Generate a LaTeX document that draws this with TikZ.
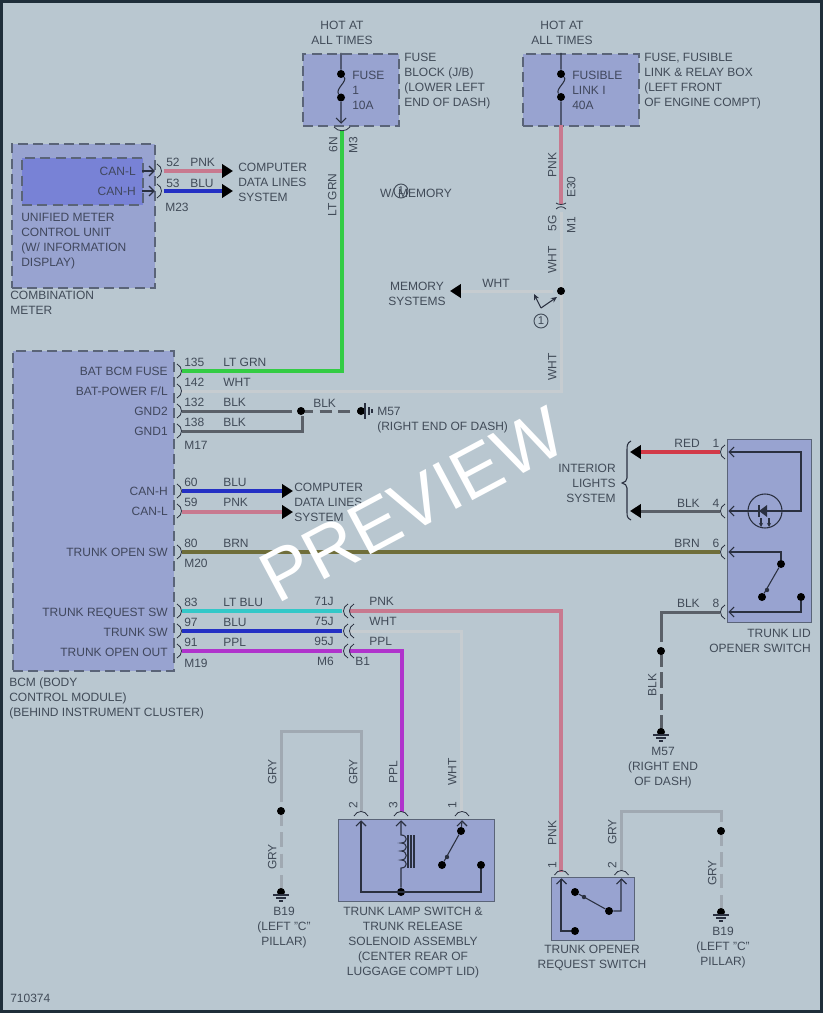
\documentclass[tikz,border=0pt]{standalone}
\usepackage{fontspec}
\setmainfont{Liberation Sans}
\usetikzlibrary{arrows.meta}
\definecolor{bgc}{HTML}{B9C7D0}
\definecolor{boxc}{HTML}{98A3D0}
\definecolor{innerc}{HTML}{7882D6}
\definecolor{edgec}{HTML}{5A6478}
\definecolor{txtc}{HTML}{414B58}
\definecolor{pnkw}{HTML}{C8798F}
\definecolor{grnw}{HTML}{33CC44}
\definecolor{bluw}{HTML}{2430C4}
\definecolor{ppw}{HTML}{B033CC}
\definecolor{cyw}{HTML}{33C8C8}
\definecolor{brw}{HTML}{6F6E3A}
\definecolor{redw}{HTML}{D23A48}
\definecolor{blkw}{HTML}{5A6068}
\definecolor{whtw}{HTML}{C6CCD0}
\definecolor{gryw}{HTML}{A0A9B2}
\definecolor{linec}{HTML}{2A3040}
\definecolor{framec}{HTML}{1F2E3A}
\newcounter{lb}
\newcommand\lab[4][]{\stepcounter{lb}\node[lab,#1] (t\arabic{lb}) at (#2,#3) {#4};}
\newcommand\mlab[4][]{\stepcounter{lb}\node[mlabs,#1] (t\arabic{lb}) at (#2,#3-4.8) {\rule{0pt}{7pt}#4};}
\newcommand\rp[2]{\draw[cn] (#1-3,#2-7) .. controls (#1+3,#2-4) and (#1+3,#2+4) .. (#1-3,#2+7);}
\newcommand\lp[2]{\draw[cn] (#1+3,#2-7) .. controls (#1-3,#2-4) and (#1-3,#2+4) .. (#1+3,#2+7);}
\newcommand\ap[2]{\draw[cn] (#1-7,#2+3) .. controls (#1-4,#2-3) and (#1+4,#2-3) .. (#1+7,#2+3);}
\newcommand\chl[2]{\draw[ln] (#1+5,#2-5) -- (#1,#2) -- (#1+5,#2+5);}
\newcommand\chu[2]{\draw[ln] (#1-5,#2+5) -- (#1,#2) -- (#1+5,#2+5);}
\newcommand\chr[2]{\draw[ln] (#1-5,#2-5) -- (#1,#2) -- (#1-5,#2+5);}
\newcommand\chd[2]{\draw[ln] (#1-5,#2-5) -- (#1,#2) -- (#1+5,#2-5);}
\newcommand\gnd[2]{\draw[ln] (#1-8,#2+3) -- (#1+8,#2+3) (#1-5,#2+6) -- (#1+5,#2+6) (#1-2,#2+9) -- (#1+2,#2+9);}
\tikzset{
  lab/.style={inner sep=0pt,text height=6.5pt,text depth=0pt,text=txtc,anchor=west,font=\fontsize{9}{11.25}\selectfont},
  mlabs/.style={inner sep=0pt,text=txtc,anchor=north west,align=left,font=\fontsize{9}{11.25}\selectfont},
  blab/.style={text=linec!80!boxc},
  dashbox/.style={draw=edgec,fill=boxc,line width=1.3pt,dash pattern=on 7.5pt off 4pt},
  solidbox/.style={draw=edgec,fill=boxc,line width=1.1pt},
  wire/.style={line width=2.5pt,line join=miter},
  thinwire/.style={line width=2.25pt,line join=miter},
  cn/.style={draw=linec,line width=.6pt},
  ln/.style={draw=linec,line width=.8pt},
  dotn/.style={circle,fill=black,inner sep=0pt,minimum size=6pt},
  tipb/.style={-{Triangle[length=8.2pt,width=10pt,black]}},
  numc/.style={circle,draw=txtc,line width=.7pt,inner sep=0pt,minimum size=10.5pt,text=txtc,font=\fontsize{8.5}{9}\selectfont}
}
\begin{document}
\begin{tikzpicture}[x=0.75pt,y=-0.75pt]
\useasboundingbox (0,0) rectangle (823,1013);
\fill[bgc] (0,0) rectangle (823,1013);
\draw[color=framec,line width=4.2pt] (0,0) rectangle (823,1013);
\draw[color=framec,line width=2.4pt] (0,1012) -- (823,1012) -- (823,0);

% boxes
\node[dashbox,minimum width=72pt,minimum height=54pt,inner sep=0pt,anchor=north west] (fuseblock) at (302,53) {};
\node[dashbox,minimum width=87pt,minimum height=54pt,inner sep=0pt,anchor=north west] (fusiblebox) at (522,53) {};
\node[dashbox,minimum width=107.25pt,minimum height=108pt,inner sep=0pt,anchor=north west] (combmeter) at (11,143) {};
\node[dashbox,fill=innerc,minimum width=90.75pt,minimum height=35.25pt,inner sep=0pt,anchor=north west] (unified) at (21,157) {};
\node[dashbox,minimum width=120.75pt,minimum height=240pt,inner sep=0pt,anchor=north west] (bcm) at (12,350) {};
\node[solidbox,minimum width=63pt,minimum height=137.25pt,inner sep=0pt,anchor=north west] (lidsw) at (727,439) {};
\node[solidbox,minimum width=117pt,minimum height=61.5pt,inner sep=0pt,anchor=north west] (lampsw) at (338,819) {};
\node[solidbox,minimum width=62.25pt,minimum height=47.25pt,inner sep=0pt,anchor=north west] (reqsw) at (551,877) {};

% named points
\foreach \n/\x/\y in {
 f1top/342/131,f1end/342/371,p135/182/371,
 f2a/561/125,f2b/561/204,f2c/561/212,f2end/561/391,p142/182/391,
 wh1/553/291,wh2/450/291,
 p52/164/171,a52/233/171,p53/164/191,a53/233/191,
 p132/182/411,k132/292/411,p138/182/431,k138/302/431,t138/302/416,
 p60/182/491,a60/293/491,p59/182/512,a59/293/512,
 p80/182/552,q80/720/552,
 p83/182/611,q83/342/611,r83/349/611,k83/561/611,e83/561/872,
 p97/182/631,q97/342/631,r97/349/631,k97/461/631,e97/461/812,
 p91/182/651,q91/342/651,r91/349/651,k91/402/651,e91/402/812,
 r1/720/452,a1/630/452,r4/720/511,a4/630/511,
 r8/720/612,k8/661/612,e8/661/642,
 g2s/361/812,g2a/361/731,g2b/281/731,g2c/281/802,
 o2s/621/871,o2a/621/811,o2b/721/811,o2c/721/822,
 dm1c/301/411,dm2c/361/411,d8ac/661/651,d8bc/661/732,dg3c/281/811,dg4c/281/892,dqc/721/831,dq2c/721/912}
 {\coordinate (\n) at (\x,\y);}

% wires
\draw[wire,color=grnw] (f1top) -- (f1end) -- (p135);
\draw[wire,color=pnkw] (f2a) -- (f2b);
\draw[thinwire,color=whtw] (f2c) -- (f2end) -- (p142);
\draw[thinwire,color=whtw,tipb] (wh1) -- (wh2);
\draw[wire,color=pnkw,tipb] (p52) -- (a52);
\draw[wire,color=bluw,tipb] (p53) -- (a53);
\draw[thinwire,color=blkw] (p132) -- (k132);
\draw[thinwire,color=blkw,dash pattern=on 9pt off 5pt] (dm1c) -- (dm2c);
\draw[thinwire,color=blkw] (p138) -- (k138) -- (t138);
\draw[wire,color=bluw,tipb] (p60) -- (a60);
\draw[wire,color=pnkw,tipb] (p59) -- (a59);
\draw[wire,color=brw] (p80) -- (q80);
\draw[wire,color=cyw] (p83) -- (q83);
\draw[wire,color=pnkw] (r83) -- (k83) -- (e83);
\draw[wire,color=bluw] (p97) -- (q97);
\draw[thinwire,color=whtw] (r97) -- (k97) -- (e97);
\draw[wire,color=ppw] (p91) -- (q91);
\draw[wire,color=ppw] (r91) -- (k91) -- (e91);
\draw[wire,color=redw,tipb] (r1) -- (a1);
\draw[thinwire,color=blkw,tipb] (r4) -- (a4);
\draw[thinwire,color=blkw] (r8) -- (k8) -- (e8);
\draw[thinwire,color=blkw,dash pattern=on 12pt off 4pt] (d8ac) -- (d8bc);
\draw[thinwire,color=gryw] (g2s) -- (g2a) -- (g2b) -- (g2c);
\draw[thinwire,color=gryw,dash pattern=on 11pt off 5pt] (dg3c) -- (dg4c);
\draw[thinwire,color=gryw] (o2s) -- (o2a) -- (o2b) -- (o2c);
\draw[thinwire,color=gryw,dash pattern=on 11pt off 5pt] (dqc) -- (dq2c);

% dots
\foreach \n/\x/\y in {df1/341/74,df2/341/97.5,dg1/561/74,dg2/561/97,dwh/561/291,
 dm1/301/411,dm2/361/411,d8a/661/651,d8b/661/732,
 dg3/281/811,dg4/281/892,dq/721/831,dq2/721/912,
 l1/781/564,l2/762/597,l3/801/597,
 s1/461/831,s2/442/865,s3/481/865,s4/401/892,
 r1d/575/892,r2d/609/911,r3d/575/931}
 {\node[dotn] (\n) at (\x,\y) {};}

% fuses
\draw[ln] (fuseblock.north -| df1) -- (df1) .. controls (348,81) and (335,89) .. (df2) -- (341,122);
\chd{341}{123}
\draw[cn] (334,127) .. controls (338,132) and (346,132) .. (350,127);
\draw[ln] (fusiblebox.north -| dg1) -- (dg1) .. controls (568,81) and (555,89) .. (dg2) -- (561,125);
\draw[cn] (556,203) .. controls (559,205) and (563,205) .. (566,203);
\draw[cn] (556,209) .. controls (559,206) and (563,206) .. (566,209);

% combination meter pins
\draw[ln] (142,171) -- (154,171); \chr{154}{171} \rp{160}{171}
\draw[ln] (142,191) -- (154,191); \chr{154}{191} \rp{160}{191}

% memory branch
\node[numc] (circ2) at (541,321) {1};
\coordinate (br) at (541,308);
\draw[ln,-{Stealth[length=4.5pt,width=4pt]}] (br) -- (534,294);
\draw[ln,-{Stealth[length=4.5pt,width=4pt]}] (br) -- (557,297);

% BCM pins
\foreach \y in {371,391,411,431,491,511,552,611,631,651} {\rp{180}{\y}}
\foreach \y in {611,631,651} {\lp{345}{\y} \lp{351}{\y}}

% M57 side ground
\draw[ln] (365,403) -- (365,419) (369,407) -- (369,415) (372,409) -- (372,413);

% trunk lid pins
\foreach \y in {452,511,552,612} {\lp{722}{\y} \chl{729}{\y}}
\draw[ln] (729,452) -- (801,452) -- (801,511) -- (729,511);
\node[circle,draw=linec,line width=.8pt,inner sep=0pt,minimum size=25.5pt] (ledc) at (765,511) {};
\fill[linec] (759,511) -- (767,505) -- (767,517) -- cycle;
\draw[linec,line width=.9pt] (759,505) -- (759,517);
\draw[ln,-{Stealth[length=3pt,width=3pt]}] (761,518) -- (761,527);
\draw[ln,-{Stealth[length=3pt,width=3pt]}] (769,518) -- (769,527);
\draw[ln] (729,552) -- (781,552) -- (l1);
\draw[ln] (l1) -- (l2);
\fill[linec] (767,590) circle (2.2);
\draw[ln] (729,612) -- (801,612) -- (l3);

% brace
\draw[ln] (631,441) .. controls (627,443) and (627,446) .. (627,450) -- (627,478) .. controls (627,481) and (625,482) .. (622,483) .. controls (625,484) and (627,485) .. (627,488) -- (627,512) .. controls (627,516) and (627,518) .. (631,520);

% trunk lamp switch
\foreach \x in {361,401,462} {\ap{\x}{813} \chu{\x}{821}}
\draw[ln] (361,821) -- (361,892) -- (481,892) -- (s3);
\draw[ln] (401,821) -- (401,835)
  .. controls (408,835) and (408,843) .. (401,843)
  .. controls (408,843) and (408,851) .. (401,851)
  .. controls (408,851) and (408,860) .. (401,860)
  .. controls (408,860) and (408,868) .. (401,868) -- (s4);
\draw[ln] (408,835) -- (408,868) (411,835) -- (411,868) (414,835) -- (414,868);
\draw[ln] (462,821) -- (s1) -- (s2);
\fill[linec] (447,857) circle (2.2);

% request switch
\foreach \x in {561.5,621.5} {\ap{\x}{872} \chu{\x}{879}}
\draw[ln] (561,879) -- (561,931) -- (r3d);
\draw[ln] (r1d) -- (r2d) -- (621,911) -- (621,879);
\fill[linec] (584,897) circle (2.2);

% grounds
\gnd{281}{892} \gnd{661}{732} \gnd{721}{912}

% labels: top
\mlab[anchor=north,align=center]{342}{25}{HOT AT\\ALL TIMES}
\mlab[anchor=north,align=center]{562}{25}{HOT AT\\ALL TIMES}
\mlab[blab]{352}{75}{FUSE\\1\\10A}
\mlab{404}{57}{FUSE\\BLOCK (J/B)\\(LOWER LEFT\\END OF DASH)}
\mlab[blab]{572}{75}{FUSIBLE\\LINK I\\40A}
\mlab{644}{57}{FUSE, FUSIBLE\\LINK \& RELAY BOX\\(LEFT FRONT\\OF ENGINE COMPT)}
\lab[rotate=90,anchor=center]{333}{145}{6N}
\lab[rotate=90,anchor=center]{353}{145}{M3}
\lab[rotate=90,anchor=center]{332}{195}{LT GRN}
\lab[rotate=90,anchor=center]{552}{165}{PNK}
\lab[rotate=90,anchor=center]{571}{187}{E30}
\lab[rotate=90,anchor=center]{552}{223}{5G}
\lab[rotate=90,anchor=center]{571}{225}{M1}
\lab[rotate=90,anchor=center]{552}{260}{WHT}
\lab[rotate=90,anchor=center]{552}{367}{WHT}
\lab[anchor=center]{416}{193}{W/ MEMORY}
\node[numc] (circ1) at (401,191) {1};
\lab[anchor=center]{496}{283}{WHT}
\mlab[anchor=north,align=center]{417}{286}{MEMORY\\SYSTEMS}
% combination meter
\lab[blab,anchor=east]{136}{171}{CAN-L}
\lab[blab,anchor=east]{136}{191}{CAN-H}
\mlab[blab]{21}{217}{UNIFIED METER\\CONTROL UNIT\\(W/ INFORMATION\\DISPLAY)}
\mlab{10}{295}{COMBINATION\\METER}
\lab{166}{162}{52}\lab{190}{162}{PNK}
\lab{166}{183}{53}\lab{190}{183}{BLU}
\lab{165}{207}{M23}
\mlab{238}{167}{COMPUTER\\DATA LINES\\SYSTEM}
% BCM
\foreach \y/\s in {371/BAT BCM FUSE,391/{BAT-POWER F/L},411/GND2,431/GND1,491/CAN-H,511/CAN-L,552/TRUNK OPEN SW,612/TRUNK REQUEST SW,632/TRUNK SW,652/TRUNK OPEN OUT}
 {\lab[blab,anchor=east]{168}{\y}{\s}}
\foreach \y/\n/\c in {362/135/LT GRN,382/142/WHT,402/132/BLK,422/138/BLK,482/60/BLU,502/59/PNK,543/80/BRN,602/83/LT BLU,622/97/BLU,642/91/PPL}
 {\lab{184}{\y}{\n}\lab{223}{\y}{\c}}
\lab{184}{445}{M17}
\lab{184}{563}{M20}
\lab{184}{663}{M19}
\lab{313}{403}{BLK}
\mlab{377}{411}{M57\\(RIGHT END OF DASH)}
\mlab{294}{487}{COMPUTER\\DATA LINES\\SYSTEM}
\lab[anchor=east]{334}{601}{71J}
\lab[anchor=east]{334}{621}{75J}
\lab[anchor=east]{334}{641}{95J}
\lab[anchor=east]{334}{661}{M6}
\lab{369}{601}{PNK}
\lab{369}{621}{WHT}
\lab{369}{641}{PPL}
\lab{355}{661}{B1}
\mlab{9}{682}{BCM (BODY\\CONTROL MODULE)\\(BEHIND INSTRUMENT CLUSTER)}
% trunk lid
\lab[anchor=east]{700}{443}{RED}
\lab[anchor=east]{700}{503}{BLK}
\lab[anchor=east]{700}{543}{BRN}
\lab[anchor=east]{700}{603}{BLK}
\lab[anchor=center]{716}{443}{1}
\lab[anchor=center]{716}{503}{4}
\lab[anchor=center]{716}{543}{6}
\lab[anchor=center]{716}{603}{8}
\mlab[anchor=north east,align=right]{616}{468}{INTERIOR\\LIGHTS\\SYSTEM}
\mlab[anchor=north east,align=right]{811}{633}{TRUNK LID\\OPENER SWITCH}
\lab[rotate=90,anchor=center]{652}{685}{BLK}
\mlab[anchor=north,align=center]{663}{751}{M57\\(RIGHT END\\OF DASH)}
% lamp
\lab[rotate=90,anchor=center]{272}{772}{GRY}
\lab[rotate=90,anchor=center]{272}{857}{GRY}
\lab[rotate=90,anchor=center]{353}{772}{GRY}
\lab[rotate=90,anchor=center]{393}{772}{PPL}
\lab[rotate=90,anchor=center]{452}{772}{WHT}
\lab[rotate=90,anchor=center]{353}{805}{2}
\lab[rotate=90,anchor=center]{393}{805}{3}
\lab[rotate=90,anchor=center]{452}{805}{1}
\mlab[anchor=north,align=center]{284}{911}{B19\\(LEFT "C"\\PILLAR)}
\mlab[anchor=north,align=center]{413}{911}{TRUNK LAMP SWITCH \&\\TRUNK RELEASE\\SOLENOID ASSEMBLY\\(CENTER REAR OF\\LUGGAGE COMPT LID)}
% request
\lab[rotate=90,anchor=center]{552}{833}{PNK}
\lab[rotate=90,anchor=center]{612}{832}{GRY}
\lab[rotate=90,anchor=center]{552}{865}{1}
\lab[rotate=90,anchor=center]{612}{865}{2}
\lab[rotate=90,anchor=center]{712}{873}{GRY}
\mlab[anchor=north,align=center]{723}{931}{B19\\(LEFT "C"\\PILLAR)}
\mlab[anchor=north,align=center]{592}{949}{TRUNK OPENER\\REQUEST SWITCH}
\lab{10}{998}{710374}
% watermark
\node[inner sep=0pt,rotate=28,text=white,font=\fontsize{54}{54}\selectfont] (wm) at (412,505) {PREVIEW};
\end{tikzpicture}
\end{document}
